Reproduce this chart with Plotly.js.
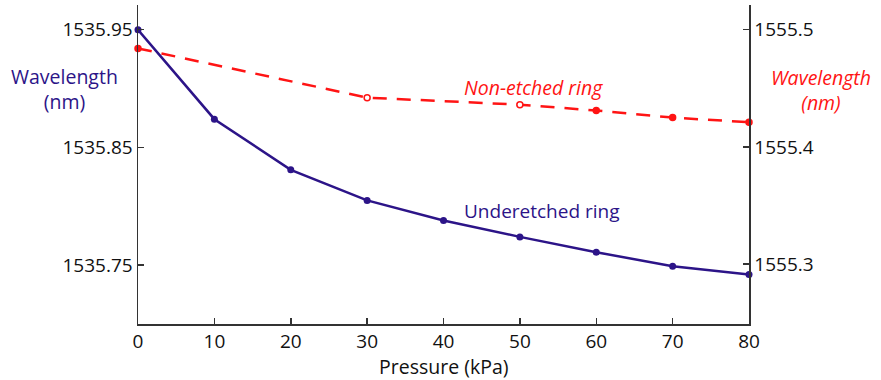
<!DOCTYPE html>
<html>
<head>
<meta charset="utf-8">
<script src="https://cdn.plot.ly/plotly-3.0.1.min.js"></script>
<style>html,body{margin:0;padding:0;background:#fff;}#chart{width:881px;height:380px;}</style>
</head>
<body>
<div id="chart"></div>
<script>
// Underetched ring (left axis)
const underPressure = [0, 10, 20, 30, 40, 50, 60, 70, 80];
const underWavelength = [1535.950, 1535.874, 1535.831, 1535.805, 1535.788, 1535.774, 1535.761, 1535.749, 1535.742];
// Non-etched ring (right axis)
const nonPressure = [0, 30, 50, 60, 70, 80];
const nonWavelength = [1555.484, 1555.442, 1555.436, 1555.431, 1555.425, 1555.421];
// Tick labels
const xTicks = [0, 10, 20, 30, 40, 50, 60, 70, 80];
const leftTicks = [1535.75, 1535.85, 1535.95];
const rightTicks = [1555.3, 1555.4, 1555.5];

const BLUE = '#2c1488';
const RED = '#ff1414';
const FONT = 'Open Sans, sans-serif';

const traces = [
  {
    x: underPressure, y: underWavelength, type: 'scatter', mode: 'lines+markers',
    line: {color: BLUE, width: 2.5}, marker: {color: BLUE, size: 7},
    xaxis: 'x', yaxis: 'y', showlegend: false, cliponaxis: false
  },
  {
    x: nonPressure, y: nonWavelength, type: 'scatter', mode: 'lines+markers',
    line: {color: RED, width: 2.5, dash: '14px,10px'},
    marker: {color: nonPressure.map(p => (p === 30 || p === 50) ? '#ffffff' : RED), size: 6, line: {color: RED, width: 1.5}},
    xaxis: 'x', yaxis: 'y2', showlegend: false, cliponaxis: false
  }
];

const tickFont = {family: FONT, size: 19, color: '#111'};

const layout = {
  width: 881, height: 380,
  margin: {l: 138, r: 132, t: 5, b: 56},
  paper_bgcolor: '#fff', plot_bgcolor: '#fff',
  font: {family: FONT},
  xaxis: {
    range: [0, 80], tickvals: xTicks, ticks: 'inside', ticklen: 6, tickcolor: '#333', tickwidth: 1.5,
    showline: true, linecolor: '#333', linewidth: 1.5, showgrid: false, zeroline: false,
    tickfont: tickFont
  },
  yaxis: {
    range: [1535.70, 1535.971], tickvals: leftTicks, tickformat: '.2f', ticks: 'inside', ticklen: 6,
    tickcolor: '#333', tickwidth: 1.5, showline: true, linecolor: '#333', linewidth: 1.5,
    showgrid: false, zeroline: false, tickfont: tickFont
  },
  yaxis2: {
    overlaying: 'y', side: 'right', range: [1555.249, 1555.521], tickvals: rightTicks, tickformat: '.1f',
    ticks: 'inside', ticklen: 6, tickcolor: '#333', tickwidth: 1.5, showline: true, linecolor: '#333',
    linewidth: 1.5, showgrid: false, zeroline: false, tickfont: tickFont
  },
  annotations: [
    {text: 'Wavelength<br>(nm)', xref: 'paper', yref: 'paper', x: -0.1195, y: 0.737, showarrow: false,
     xanchor: 'center', yanchor: 'middle', font: {family: FONT, size: 19.5, color: BLUE}},
    {text: '<i>Wavelength</i><br><i>(nm)</i>', xref: 'paper', yref: 'paper', x: 1.118, y: 0.734, showarrow: false,
     xanchor: 'center', yanchor: 'middle', font: {family: FONT, size: 19.5, color: RED}},
    {text: '<i>Non-etched ring</i>', xref: 'paper', yref: 'paper', x: 0.530, y: 0.740, showarrow: false,
     xanchor: 'left', yanchor: 'middle', font: {family: FONT, size: 19.5, color: RED}},
    {text: 'Underetched ring', xref: 'paper', yref: 'paper', x: 0.530, y: 0.354, showarrow: false,
     xanchor: 'left', yanchor: 'middle', font: {family: FONT, size: 19, color: BLUE}},
    {text: 'Pressure (kPa)', xref: 'paper', yref: 'paper', x: 0.500, y: -0.132, showarrow: false,
     xanchor: 'center', yanchor: 'middle', font: {family: FONT, size: 19.5, color: '#111'}}
  ]
};

Plotly.newPlot('chart', traces, layout, {displayModeBar: false, staticPlot: true});
</script>
</body>
</html>
